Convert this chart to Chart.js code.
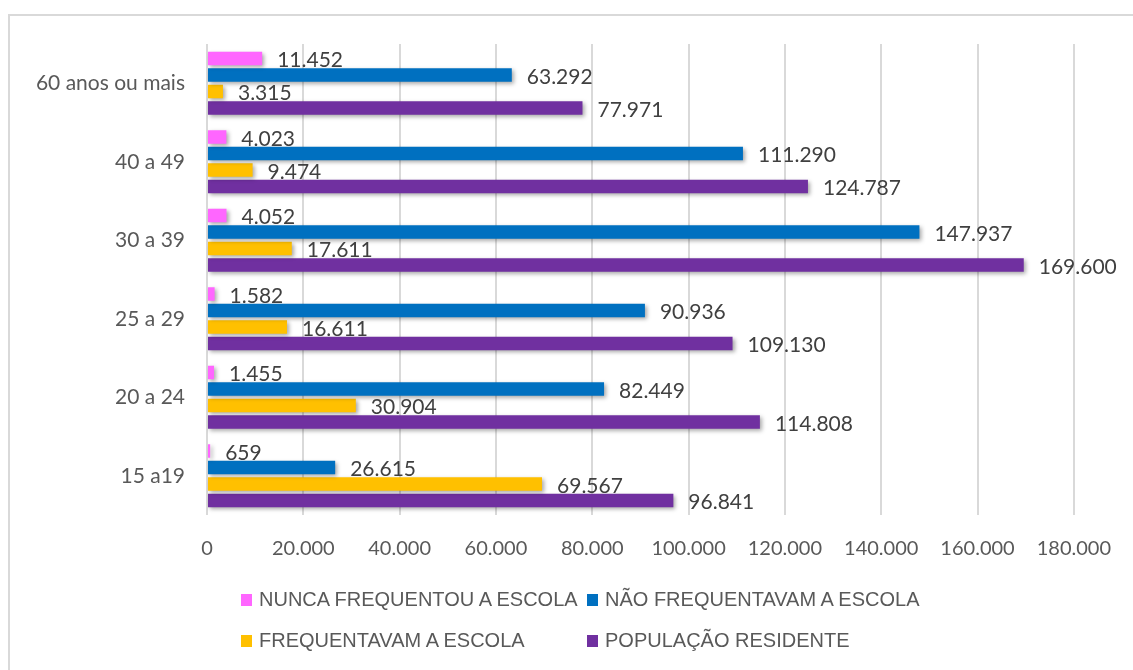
<!DOCTYPE html>
<html>
<head>
<meta charset="utf-8">
<script src="https://cdn.jsdelivr.net/npm/chart.js@4"></script>
<style>
  html, body { margin: 0; padding: 0; background: #fff; width: 1133px; height: 670px; overflow: hidden; }
  #frame { position: absolute; left: 8px; top: 14px; width: 1200px; height: 700px; border: 2px solid #d9d9d9; }
  #chart { position: absolute; left: 0; top: 0; }
  #legend { position: absolute; left: 0; top: 0; }
  .item { position: absolute; display: flex; align-items: center; font-family: "Liberation Sans Narrow", "Liberation Sans", sans-serif; font-size: 20px; color: #595959; white-space: nowrap; }
  .box { width: 11px; height: 12px; margin-right: 7px; }
</style>
</head>
<body>
<div id="frame"></div>
<canvas id="chart" width="1133" height="670"></canvas>
<div id="legend"></div>
<script>
// faixas etárias (de cima para baixo)
const categories = ["60 anos ou mais", "40 a 49", "30 a 39", "25 a 29", "20 a 24", "15 a19"];

const nuncaFrequentou = [11452, 4023, 4052, 1582, 1455, 659];
const naoFrequentavam = [63292, 111290, 147937, 90936, 82449, 26615];
const frequentavam = [3315, 9474, 17611, 16611, 30904, 69567];
const populacao = [77971, 124787, 169600, 109130, 114808, 96841];

const seriesNames = ["NUNCA FREQUENTOU A ESCOLA", "NÃO FREQUENTAVAM A ESCOLA", "FREQUENTAVAM A ESCOLA", "POPULAÇÃO RESIDENTE"];
const seriesColors = ["#ff66ff", "#0070c0", "#ffc000", "#7030a0"];

const xMax = 180000;
const xStep = 20000;

const numFont = 'Lato, "Open Sans", sans-serif';

function fmt(v) {
  return String(v).replace(/\B(?=(\d{3})+(?!\d))/g, ".");
}

// sombra leve nas barras
const shadowPlugin = {
  id: "shadow",
  beforeDatasetsDraw(chart) {
    const ctx = chart.ctx;
    ctx.save();
    ctx.shadowColor = "rgba(0,0,0,0.35)";
    ctx.shadowBlur = 4;
    ctx.shadowOffsetX = 2;
    ctx.shadowOffsetY = 2;
  },
  afterDatasetsDraw(chart) {
    chart.ctx.restore();
  }
};

// rótulos de valor à direita de cada barra
const valueLabels = {
  id: "valueLabels",
  afterDatasetsDraw(chart) {
    const ctx = chart.ctx;
    ctx.save();
    ctx.font = "21px " + numFont;
    ctx.fillStyle = "#404040";
    ctx.textAlign = "left";
    ctx.textBaseline = "middle";
    chart.data.datasets.forEach((ds, i) => {
      chart.getDatasetMeta(i).data.forEach((bar, j) => {
        ctx.fillText(fmt(ds.data[j]), bar.x + 15, bar.y + 2);
      });
    });
    ctx.restore();
  }
};

const datasets = [nuncaFrequentou, naoFrequentavam, frequentavam, populacao].map((d, i) => ({
  label: seriesNames[i],
  data: d,
  backgroundColor: seriesColors[i],
  categoryPercentage: 0.84,
  barPercentage: 0.83
}));

new Chart(document.getElementById("chart"), {
  type: "bar",
  data: { labels: categories, datasets },
  options: {
    indexAxis: "y",
    responsive: false,
    animation: false,
    layout: { padding: { left: 0, right: 55, top: 44, bottom: 115 } },
    plugins: {
      legend: { display: false },
      tooltip: { enabled: false }
    },
    scales: {
      x: {
        min: 0,
        max: xMax,
        ticks: {
          stepSize: xStep,
          padding: 22,
          color: "#595959",
          font: { family: numFont, size: 20 },
          callback: v => fmt(v)
        },
        grid: { color: "#d9d9d9", lineWidth: 2, drawTicks: false },
        border: { display: false },
        afterFit(scale) { scale.height = 40; }
      },
      y: {
        ticks: {
          padding: 22,
          color: "#595959",
          font: { family: numFont, size: 21 }
        },
        grid: { display: false, drawTicks: false },
        border: { display: false },
        afterFit(scale) { scale.width = 207; }
      }
    }
  },
  plugins: [shadowPlugin, valueLabels]
});

// legenda em 2 colunas
const legendPos = [[241, 600], [587, 600], [241, 641], [587, 641]];
const legend = document.getElementById("legend");
seriesNames.forEach((name, i) => {
  const el = document.createElement("div");
  el.className = "item";
  el.style.left = legendPos[i][0] + "px";
  el.style.top = (legendPos[i][1] - 12) + "px";
  el.innerHTML = `<span class="box" style="background:${seriesColors[i]}"></span><span>${name}</span>`;
  legend.appendChild(el);
});
</script>
</body>
</html>
